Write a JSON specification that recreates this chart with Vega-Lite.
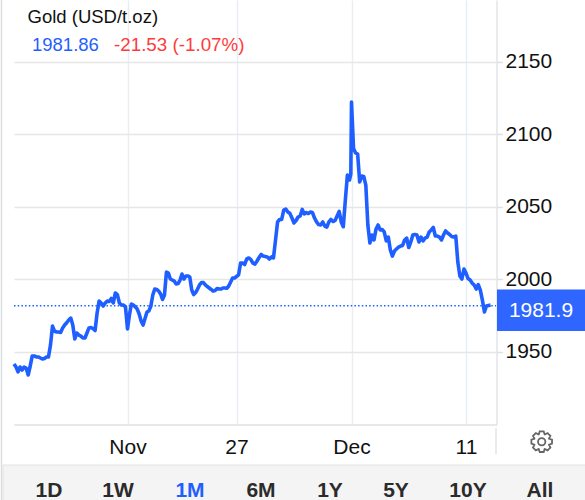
{"$schema":"https://vega.github.io/schema/vega-lite/v6.json","width":482.5,"height":424.5,"padding":{"left":14,"top":0,"right":88.5,"bottom":75.5},"autosize":"none","background":"#ffffff","config":{"view":{"stroke":null},"font":"Liberation Sans"},
"datasets":{"gold":[
{"t":"2023-11-13T00:00","v":1941.7},{"t":"2023-11-13T03:00","v":1939.6},{"t":"2023-11-13T06:00","v":1936.2},{"t":"2023-11-13T09:00","v":1939.6},{"t":"2023-11-13T12:00","v":1937.5},{"t":"2023-11-13T15:00","v":1939.6},{"t":"2023-11-13T18:00","v":1938.9},{"t":"2023-11-13T21:00","v":1934.1},
{"t":"2023-11-14T00:00","v":1940.3},{"t":"2023-11-14T03:00","v":1947.2},{"t":"2023-11-14T06:00","v":1947.2},{"t":"2023-11-14T09:00","v":1946.5},{"t":"2023-11-14T12:00","v":1946.5},{"t":"2023-11-14T15:00","v":1945.8},{"t":"2023-11-14T18:00","v":1945.1},{"t":"2023-11-14T21:00","v":1945.5},
{"t":"2023-11-15T00:00","v":1946.5},{"t":"2023-11-15T03:00","v":1946.5},{"t":"2023-11-15T06:00","v":1954.7},{"t":"2023-11-15T09:00","v":1967.8},{"t":"2023-11-15T12:00","v":1964.3},{"t":"2023-11-15T15:00","v":1963.7},{"t":"2023-11-15T18:00","v":1963.7},{"t":"2023-11-15T21:00","v":1963.4},
{"t":"2023-11-16T00:00","v":1966.5},{"t":"2023-11-16T03:00","v":1968.5},{"t":"2023-11-16T06:00","v":1970.1},{"t":"2023-11-16T09:00","v":1972},{"t":"2023-11-16T12:00","v":1973.3},{"t":"2023-11-16T15:00","v":1968.5},{"t":"2023-11-16T18:00","v":1958.9},{"t":"2023-11-16T21:00","v":1963},
{"t":"2023-11-17T00:00","v":1961.6},{"t":"2023-11-17T03:00","v":1960.9},{"t":"2023-11-17T06:00","v":1959.6},{"t":"2023-11-17T09:00","v":1959.6},{"t":"2023-11-17T12:00","v":1963},{"t":"2023-11-17T15:00","v":1966.5},{"t":"2023-11-17T18:00","v":1966.8},{"t":"2023-11-17T21:00","v":1966.1},
{"t":"2023-11-18T00:00","v":1964.7},{"t":"2023-11-18T03:00","v":1976.8},{"t":"2023-11-18T06:00","v":1985},{"t":"2023-11-18T09:00","v":1983.7},{"t":"2023-11-18T12:00","v":1981.6},{"t":"2023-11-18T15:00","v":1983.7},{"t":"2023-11-18T18:00","v":1985},{"t":"2023-11-18T21:00","v":1984.7},
{"t":"2023-11-19T00:00","v":1986.8},{"t":"2023-11-19T03:00","v":1983.7},{"t":"2023-11-19T06:00","v":1990.6},{"t":"2023-11-19T09:00","v":1989.5},{"t":"2023-11-19T12:00","v":1983.7},{"t":"2023-11-19T15:00","v":1982.3},{"t":"2023-11-19T18:00","v":1982.3},{"t":"2023-11-19T21:00","v":1981},
{"t":"2023-11-20T00:00","v":1965.8},{"t":"2023-11-20T03:00","v":1975.4},{"t":"2023-11-20T06:00","v":1983},{"t":"2023-11-20T09:00","v":1982.3},{"t":"2023-11-20T12:00","v":1981},{"t":"2023-11-20T15:00","v":1979.5},{"t":"2023-11-20T18:00","v":1976.1},{"t":"2023-11-20T21:00","v":1971.3},
{"t":"2023-11-21T00:00","v":1968.5},{"t":"2023-11-21T03:00","v":1973},{"t":"2023-11-21T06:00","v":1977.5},{"t":"2023-11-21T09:00","v":1978.2},{"t":"2023-11-21T12:00","v":1981.6},{"t":"2023-11-21T15:00","v":1989.2},{"t":"2023-11-21T18:00","v":1993.3},{"t":"2023-11-21T21:00","v":1993},
{"t":"2023-11-22T00:00","v":1991.9},{"t":"2023-11-22T03:00","v":1989.9},{"t":"2023-11-22T06:00","v":1986.1},{"t":"2023-11-22T09:00","v":1989.2},{"t":"2023-11-22T12:00","v":2005},{"t":"2023-11-22T15:00","v":2004.3},{"t":"2023-11-22T18:00","v":2000.2},{"t":"2023-11-22T21:00","v":1999.5},
{"t":"2023-11-23T00:00","v":1998.8},{"t":"2023-11-23T03:00","v":1996.8},{"t":"2023-11-23T06:00","v":1997.1},{"t":"2023-11-23T09:00","v":1999.5},{"t":"2023-11-23T12:00","v":2003.6},{"t":"2023-11-23T15:00","v":2000.2},{"t":"2023-11-23T18:00","v":2002.3},{"t":"2023-11-23T21:00","v":2002.3},
{"t":"2023-11-24T00:00","v":2001.6},{"t":"2023-11-24T03:00","v":1992.6},{"t":"2023-11-24T06:00","v":1989.5},{"t":"2023-11-24T09:00","v":1990.9},{"t":"2023-11-24T12:00","v":1993.3},{"t":"2023-11-24T15:00","v":1996.1},{"t":"2023-11-24T18:00","v":1997.8},{"t":"2023-11-24T21:00","v":1997.7},
{"t":"2023-11-25T00:00","v":1996.1},{"t":"2023-11-25T03:00","v":1995},{"t":"2023-11-25T06:00","v":1994},{"t":"2023-11-25T09:00","v":1993},{"t":"2023-11-25T12:00","v":1991.9},{"t":"2023-11-25T15:00","v":1992.3},{"t":"2023-11-25T18:00","v":1993.7},{"t":"2023-11-25T21:00","v":1993.3},
{"t":"2023-11-26T00:00","v":1993.3},{"t":"2023-11-26T03:00","v":1994},{"t":"2023-11-26T06:00","v":1994},{"t":"2023-11-26T09:00","v":1993.8},{"t":"2023-11-26T12:00","v":1995.4},{"t":"2023-11-26T15:00","v":1998.1},{"t":"2023-11-26T18:00","v":2000.9},{"t":"2023-11-26T21:00","v":2000.9},
{"t":"2023-11-27T00:00","v":2001.9},{"t":"2023-11-27T03:00","v":2003},{"t":"2023-11-27T06:00","v":2011.2},{"t":"2023-11-27T09:00","v":2011.2},{"t":"2023-11-27T12:00","v":2010.2},{"t":"2023-11-27T15:00","v":2014},{"t":"2023-11-27T18:00","v":2014.7},{"t":"2023-11-27T21:00","v":2013.6},
{"t":"2023-11-28T00:00","v":2011.2},{"t":"2023-11-28T03:00","v":2010.5},{"t":"2023-11-28T06:00","v":2012.6},{"t":"2023-11-28T09:00","v":2015},{"t":"2023-11-28T12:00","v":2017.1},{"t":"2023-11-28T15:00","v":2016},{"t":"2023-11-28T18:00","v":2015.7},{"t":"2023-11-28T21:00","v":2015.4},
{"t":"2023-11-29T00:00","v":2014},{"t":"2023-11-29T03:00","v":2015.4},{"t":"2023-11-29T06:00","v":2014.7},{"t":"2023-11-29T09:00","v":2027},{"t":"2023-11-29T12:00","v":2039.5},{"t":"2023-11-29T15:00","v":2041.2},{"t":"2023-11-29T18:00","v":2041.3},{"t":"2023-11-29T21:00","v":2047.7},
{"t":"2023-11-30T00:00","v":2048.4},{"t":"2023-11-30T03:00","v":2046.3},{"t":"2023-11-30T06:00","v":2045.4},{"t":"2023-11-30T09:00","v":2042.2},{"t":"2023-11-30T12:00","v":2038.8},{"t":"2023-11-30T15:00","v":2040.5},{"t":"2023-11-30T18:00","v":2042.9},{"t":"2023-11-30T21:00","v":2043.6},
{"t":"2023-12-01T00:00","v":2048.1},{"t":"2023-12-01T03:00","v":2045},{"t":"2023-12-01T06:00","v":2046},{"t":"2023-12-01T09:00","v":2045.3},{"t":"2023-12-01T12:00","v":2046.3},{"t":"2023-12-01T15:00","v":2046},{"t":"2023-12-01T18:00","v":2042.2},{"t":"2023-12-01T21:00","v":2039.5},
{"t":"2023-12-02T00:00","v":2037.7},{"t":"2023-12-02T03:00","v":2037.4},{"t":"2023-12-02T06:00","v":2039.5},{"t":"2023-12-02T09:00","v":2036.7},{"t":"2023-12-02T12:00","v":2036},{"t":"2023-12-02T15:00","v":2039.5},{"t":"2023-12-02T18:00","v":2041.2},{"t":"2023-12-02T21:00","v":2039.8},
{"t":"2023-12-03T00:00","v":2040.5},{"t":"2023-12-03T03:00","v":2043.6},{"t":"2023-12-03T06:00","v":2046.7},{"t":"2023-12-03T09:00","v":2039.5},{"t":"2023-12-03T12:00","v":2036.2},{"t":"2023-12-03T15:00","v":2054.6},{"t":"2023-12-03T18:00","v":2071.8},{"t":"2023-12-03T21:00","v":2068.4},{"t":"2023-12-03T23:00","v":2072.5},
{"t":"2023-12-04T00:00","v":2122.1},{"t":"2023-12-04T03:00","v":2090.1},{"t":"2023-12-04T06:00","v":2087},{"t":"2023-12-04T09:00","v":2086.3},{"t":"2023-12-04T12:00","v":2067},{"t":"2023-12-04T15:00","v":2071.1},{"t":"2023-12-04T18:00","v":2070.8},{"t":"2023-12-04T21:00","v":2064.9},
{"t":"2023-12-05T00:00","v":2037.4},{"t":"2023-12-05T03:00","v":2025},{"t":"2023-12-05T06:00","v":2030.5},{"t":"2023-12-05T09:00","v":2027.1},{"t":"2023-12-05T12:00","v":2034.6},{"t":"2023-12-05T15:00","v":2037.4},{"t":"2023-12-05T18:00","v":2034},{"t":"2023-12-05T21:00","v":2034.3},
{"t":"2023-12-06T00:00","v":2032.6},{"t":"2023-12-06T03:00","v":2026.4},{"t":"2023-12-06T06:00","v":2029.1},{"t":"2023-12-06T09:00","v":2020.2},{"t":"2023-12-06T12:00","v":2016},{"t":"2023-12-06T15:00","v":2019.5},{"t":"2023-12-06T18:00","v":2020.9},{"t":"2023-12-06T21:00","v":2022.2},
{"t":"2023-12-07T00:00","v":2022.9},{"t":"2023-12-07T03:00","v":2023.3},{"t":"2023-12-07T06:00","v":2027.1},{"t":"2023-12-07T09:00","v":2028.4},{"t":"2023-12-07T12:00","v":2021.9},{"t":"2023-12-07T15:00","v":2025.7},{"t":"2023-12-07T18:00","v":2030.5},{"t":"2023-12-07T21:00","v":2030.9},
{"t":"2023-12-08T00:00","v":2030.5},{"t":"2023-12-08T03:00","v":2025.7},{"t":"2023-12-08T06:00","v":2029.1},{"t":"2023-12-08T09:00","v":2026.4},{"t":"2023-12-08T12:00","v":2028.4},{"t":"2023-12-08T15:00","v":2029.1},{"t":"2023-12-08T18:00","v":2032.6},{"t":"2023-12-08T21:00","v":2034},
{"t":"2023-12-09T00:00","v":2035.7},{"t":"2023-12-09T03:00","v":2029.8},{"t":"2023-12-09T06:00","v":2029.8},{"t":"2023-12-09T09:00","v":2029.1},{"t":"2023-12-09T12:00","v":2027.1},{"t":"2023-12-09T15:00","v":2030.5},{"t":"2023-12-09T18:00","v":2033.3},{"t":"2023-12-09T21:00","v":2031.9},
{"t":"2023-12-10T00:00","v":2030.9},{"t":"2023-12-10T03:00","v":2029.5},{"t":"2023-12-10T06:00","v":2029.1},{"t":"2023-12-10T09:00","v":2029.8},{"t":"2023-12-10T12:00","v":2011.9},{"t":"2023-12-10T15:00","v":2002.3},{"t":"2023-12-10T18:00","v":2000.2},{"t":"2023-12-10T21:00","v":2007.1},
{"t":"2023-12-11T00:00","v":2004.3},{"t":"2023-12-11T03:00","v":2000.5},{"t":"2023-12-11T06:00","v":1999.5},{"t":"2023-12-11T09:00","v":1997.4},{"t":"2023-12-11T12:00","v":1996.1},{"t":"2023-12-11T15:00","v":1993.3},{"t":"2023-12-11T18:00","v":1996.4},{"t":"2023-12-11T21:00","v":1992.6},
{"t":"2023-12-12T00:00","v":1985.7},{"t":"2023-12-12T03:00","v":1977.5},{"t":"2023-12-12T06:00","v":1981.6},{"t":"2023-12-12T09:00","v":1982},{"t":"2023-12-12T12:00","v":1982.3}
]},
"layer":[
{"mark":{"type":"rect","color":"#f4f4f4","stroke":"#e2e2e2","strokeWidth":1},"data":{"values":[{"part":"bar"}]},"encoding":{"x":{"value":-11},"x2":{"value":575},"y":{"value":465},"y2":{"value":505}}},
{"mark":{"type":"rule","color":"#dcdfe2","strokeWidth":1.5},"data":{"values":[{"part":"left"}]},"encoding":{"x":{"value":-12.5},"y":{"value":0},"y2":{"value":500}}},
{"mark":{"type":"rule","color":"#e2e5e8","strokeWidth":1.5},"data":{"values":[{"part":"axis"}]},"encoding":{"x":{"value":482},"y":{"value":428},"y2":{"value":454}}},
{"data":{"name":"gold"},"mark":{"type":"line","color":"#1f5fff","strokeWidth":3.6,"strokeJoin":"round","clip":false},"encoding":{
"x":{"field":"t","type":"temporal","scale":{"domainRaw":{"expr":"[datetime(2023,10,13),datetime(2023,10,20),datetime(2023,10,27),datetime(2023,11,4),datetime(2023,11,11),datetime(2023,11,12,20,42)]"},"range":[0,113.5,222.5,337.5,452,482.5]},
"axis":{"title":null,"values":["2023-11-20T00:00","2023-11-27T00:00","2023-12-04T00:00","2023-12-11T00:00"],"labelExpr":"date(datum.value)==20?'Nov':date(datum.value)==27?'27':date(datum.value)==4?'Dec':'11'","labelFontSize":21,"labelColor":"#111111","labelPadding":12,"tickSize":0,"grid":true,"gridColor":"#e8eef4","gridWidth":1.5,"domainColor":"#e0e0e0","domainWidth":1.5,"labelOverlap":false,"labelFlush":false}},
"y":{"field":"v","type":"quantitative","scale":{"domain":[1900,2192.36],"nice":false,"zero":false},
"axis":{"title":null,"orient":"right","values":[1950,2000,2050,2100,2150],"format":"d","labelFontSize":21,"labelColor":"#111111","labelPadding":2.5,"tickSize":6,"tickColor":"#e0e0e0","tickWidth":1.5,"grid":true,"gridColor":"#e6e6e6","gridWidth":1.5,"domainColor":"#e2e5e8","domainWidth":1.5}}}},
{"mark":{"type":"rule","color":"#1f5fff","strokeWidth":1.5,"strokeDash":[1.5,2.2]},"data":{"values":[{"last":1981.86}]},"encoding":{"y":{"field":"last","type":"quantitative"},"x":{"value":0},"x2":{"value":482}}},
{"mark":{"type":"rect","color":"#2e66ff"},"data":{"values":[{"part":"tag"}]},"encoding":{"x":{"value":483},"x2":{"value":575},"y":{"value":289.5},"y2":{"value":331}}},
{"mark":{"type":"text","color":"#ffffff","fontSize":21,"align":"center","baseline":"middle"},"data":{"values":[{"tag":"1981.9"}]},"encoding":{"text":{"field":"tag"},"x":{"value":527},"y":{"value":311}}},
{"mark":{"type":"text","color":"#111111","fontSize":18.5,"align":"left","baseline":"alphabetic"},"data":{"values":[{"s":"Gold (USD/t.oz)"}]},"encoding":{"text":{"field":"s"},"x":{"value":13.5},"y":{"value":23}}},
{"mark":{"type":"text","color":"#1f5fff","fontSize":18.5,"align":"left","baseline":"alphabetic"},"data":{"values":[{"s":"1981.86"}]},"encoding":{"text":{"field":"s"},"x":{"value":18},"y":{"value":51}}},
{"mark":{"type":"text","color":"#ff3b3b","fontSize":18.8,"align":"left","baseline":"alphabetic"},"data":{"values":[{"s":"-21.53 (-1.07%)"}]},"encoding":{"text":{"field":"s"},"x":{"value":100},"y":{"value":51}}},
{"mark":{"type":"point","filled":false,"stroke":"#666666","strokeWidth":1.8,"size":441,"opacity":1,"shape":"M.695 -.281L.982 -.191L.982 .191L.695 .281L.690 .293L.829 .559L.559 .829L.293 .690L.281 .695L.191 .982L-.191 .982L-.281 .695L-.293 .690L-.559 .829L-.829 .559L-.690 .293L-.695 .281L-.982 .191L-.982 -.191L-.695 -.281L-.690 -.293L-.829 -.559L-.559 -.829L-.293 -.690L-.281 -.695L-.191 -.982L.191 -.982L.281 -.695L.293 -.690L.559 -.829L.829 -.559L.690 -.293ZM.35 0A.35 .35 0 1 1 -.35 0A.35 .35 0 1 1 .35 0Z"},"data":{"values":[{"part":"gear"}]},"encoding":{"x":{"value":527.7},"y":{"value":441.7}}},
{"mark":{"type":"text","fontSize":21,"fontWeight":"bold","align":"center","baseline":"alphabetic","color":"#2b2b2b"},"data":{"values":[{"range":"1D"}]},"encoding":{"text":{"field":"range"},"x":{"value":35},"y":{"value":496.5}}},
{"mark":{"type":"text","fontSize":21,"fontWeight":"bold","align":"center","baseline":"alphabetic","color":"#2b2b2b"},"data":{"values":[{"range":"1W"}]},"encoding":{"text":{"field":"range"},"x":{"value":104},"y":{"value":496.5}}},
{"mark":{"type":"text","fontSize":21,"fontWeight":"bold","align":"center","baseline":"alphabetic","color":"#1f5fff"},"data":{"values":[{"range":"1M"}]},"encoding":{"text":{"field":"range"},"x":{"value":176},"y":{"value":496.5}}},
{"mark":{"type":"text","fontSize":21,"fontWeight":"bold","align":"center","baseline":"alphabetic","color":"#2b2b2b"},"data":{"values":[{"range":"6M"}]},"encoding":{"text":{"field":"range"},"x":{"value":247},"y":{"value":496.5}}},
{"mark":{"type":"text","fontSize":21,"fontWeight":"bold","align":"center","baseline":"alphabetic","color":"#2b2b2b"},"data":{"values":[{"range":"1Y"}]},"encoding":{"text":{"field":"range"},"x":{"value":316},"y":{"value":496.5}}},
{"mark":{"type":"text","fontSize":21,"fontWeight":"bold","align":"center","baseline":"alphabetic","color":"#2b2b2b"},"data":{"values":[{"range":"5Y"}]},"encoding":{"text":{"field":"range"},"x":{"value":382},"y":{"value":496.5}}},
{"mark":{"type":"text","fontSize":21,"fontWeight":"bold","align":"center","baseline":"alphabetic","color":"#2b2b2b"},"data":{"values":[{"range":"10Y"}]},"encoding":{"text":{"field":"range"},"x":{"value":454},"y":{"value":496.5}}},
{"mark":{"type":"text","fontSize":21,"fontWeight":"bold","align":"center","baseline":"alphabetic","color":"#2b2b2b"},"data":{"values":[{"range":"All"}]},"encoding":{"text":{"field":"range"},"x":{"value":526},"y":{"value":496.5}}}
]}
